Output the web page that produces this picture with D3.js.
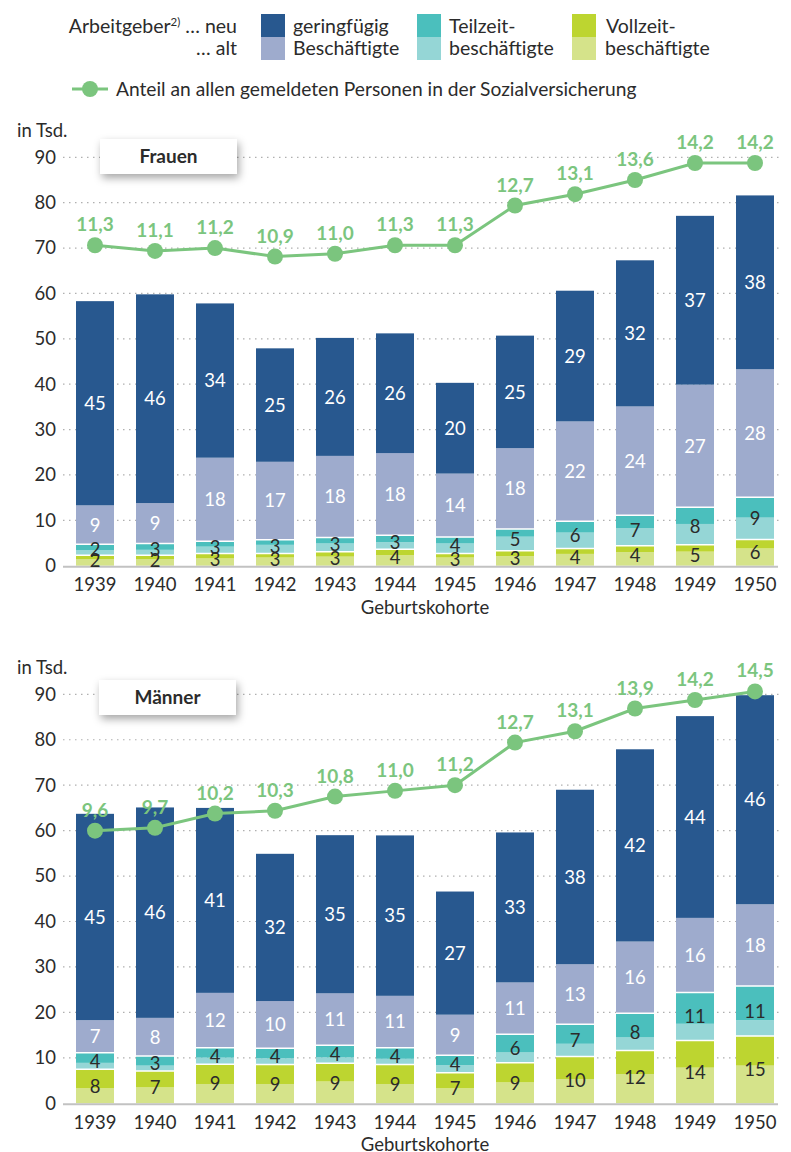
<!DOCTYPE html>
<html><head><meta charset="utf-8">
<script src="https://cdn.jsdelivr.net/npm/d3@7"></script>
<style>
html,body{margin:0;padding:0;background:#fff;}
svg text{font-family:Lato,"Source Sans Pro","Noto Sans",sans-serif;}
</style></head>
<body>
<svg id="chart" width="791" height="1152"></svg>
<script>
const years = ["1939","1940","1941","1942","1943","1944","1945","1946","1947","1948","1949","1950"];
const yTicks = [0,10,20,30,40,50,60,70,80,90];

// Frauen (in Tsd.)
const frauenVollzeitAlt  = [1.4,1.4,1.6,1.8,2.0,2.3,1.8,2.1,2.6,3.0,3.1,3.8];
const frauenVollzeitNeu  = [0.9,0.9,1.1,0.9,1.1,1.3,0.9,1.2,1.2,1.4,1.5,2.0];
const frauenTeilzeitAlt  = [1.1,1.2,1.5,1.9,1.8,1.6,2.2,3.1,3.5,3.9,4.6,4.8];
const frauenTeilzeitNeu  = [1.3,1.4,1.2,1.1,1.3,1.5,1.4,1.7,2.5,2.8,3.7,4.5];
const frauenGeringAlt    = [8.6,8.9,18.4,17.2,18.0,18.1,14.0,17.8,22.0,24.0,27.0,28.2];
const frauenGeringNeu    = [45.0,46.0,34.0,25.0,26.0,26.4,20.0,24.8,28.8,32.2,37.2,38.3];
const frauenAnteil       = [11.3,11.1,11.2,10.9,11.0,11.3,11.3,12.7,13.1,13.6,14.2,14.2];

// Männer (in Tsd.)
const maennerVollzeitAlt = [3.3,3.5,4.25,4.25,4.8,4.25,3.3,4.6,5.35,6.45,7.85,8.3];
const maennerVollzeitNeu = [4.2,3.6,4.35,4.3,4.0,4.3,3.45,4.35,4.95,5.15,5.95,6.5];
const maennerTeilzeitAlt = [1.4,1.2,1.45,1.35,1.3,1.25,1.65,2.25,2.8,2.9,3.7,3.5];
const maennerTeilzeitNeu = [2.2,2.1,2.2,2.2,2.7,2.45,2.2,4.0,4.3,5.3,6.9,7.5];
const maennerGeringAlt   = [7.2,8.4,12.05,10.4,11.4,11.4,8.9,11.4,13.2,15.8,16.4,18.0];
const maennerGeringNeu   = [45.4,46.3,40.7,32.4,34.8,35.3,27.1,33.0,38.4,42.3,44.4,46.0];
const maennerAnteil      = [9.6,9.7,10.2,10.3,10.8,11.0,11.2,12.7,13.1,13.9,14.2,14.5];

const C = {
  vzAlt:"#d5e38a", vzNeu:"#bdd530",
  tzAlt:"#95d6d6", tzNeu:"#4bbfbd",
  gbAlt:"#9eabcd", gbNeu:"#28588f",
  line:"#7bc57e", text:"#2b2b2b", grid:"#b0b0b0", axis:"#c2c2c2"
};

const svg = d3.select("#chart");
const defs = svg.append("defs");
const f = defs.append("filter").attr("id","shadow").attr("x","-20%").attr("y","-30%").attr("width","150%").attr("height","190%");
f.append("feDropShadow").attr("dx",2).attr("dy",4).attr("stdDeviation",4).attr("flood-color","#000").attr("flood-opacity",0.35);

const fmt = v => d3.format(".1f")(v).replace(".", ",");

// ---------- Legend ----------
const lg = svg.append("g");
const lt = lg.append("text").attr("x",237).attr("y",33).attr("text-anchor","end").attr("font-size",19.5).attr("fill",C.text);
lt.append("tspan").text("Arbeitgeber");
lt.append("tspan").attr("font-size",11.5).attr("dy",-7).text("2)");
lt.append("tspan").attr("dy",7).text(" … neu");
lg.append("text").attr("x",237).attr("y",55).attr("text-anchor","end").attr("font-size",19.5).attr("fill",C.text).text("… alt");

const legendItems = [
  {x:261, neu:C.gbNeu, alt:C.gbAlt, l1:"geringfügig", l2:"Beschäftigte", tx:293},
  {x:417, neu:C.tzNeu, alt:C.tzAlt, l1:"Teilzeit-", l2:"beschäftigte", tx:449},
  {x:572, neu:C.vzNeu, alt:C.vzAlt, l1:"Vollzeit-", l2:"beschäftigte", tx:606}
];
legendItems.forEach(it=>{
  lg.append("rect").attr("x",it.x).attr("y",14).attr("width",24).attr("height",23).attr("fill",it.neu);
  lg.append("rect").attr("x",it.x).attr("y",37).attr("width",24).attr("height",23).attr("fill",it.alt);
  lg.append("text").attr("x",it.tx).attr("y",33).attr("font-size",19.5).attr("fill",C.text).text(it.l1);
  lg.append("text").attr("x",it.tx-(it.l1==="Vollzeit-"?1:0)).attr("y",55).attr("font-size",19.5).attr("fill",C.text).text(it.l2);
});
lg.append("line").attr("x1",72).attr("x2",108).attr("y1",89).attr("y2",89).attr("stroke",C.line).attr("stroke-width",3);
lg.append("circle").attr("cx",90).attr("cy",89).attr("r",8).attr("fill",C.line);
lg.append("text").attr("x",116).attr("y",96).attr("font-size",19.2).attr("fill",C.text).text("Anteil an allen gemeldeten Personen in der Sozialversicherung");

// ---------- Panels ----------
const x = d3.scaleBand().domain(years).range([65,785]).paddingInner(22/60).paddingOuter(11/60);

function panel(cfg){
  const y = d3.scaleLinear().domain([0,90]).range([cfg.bottom, cfg.top]);
  const y2 = d3.scaleLinear().domain([0,14.4]).range([cfg.bottom, cfg.top]);
  const g = svg.append("g");

  g.append("text").attr("x",17).attr("y",cfg.top-20).attr("font-size",18.5).attr("fill",C.text).text("in Tsd.");

  // grid
  g.selectAll(".grid").data(yTicks.filter(d=>d>0)).join("line")
    .attr("x1",63).attr("x2",780).attr("y1",d=>y(d)).attr("y2",d=>y(d))
    .attr("stroke",C.grid).attr("stroke-width",1.2).attr("stroke-dasharray","1.5,4.5");

  // y axis labels
  const ya = g.append("g").attr("transform","translate(56,0)")
    .call(d3.axisLeft(y).tickValues(yTicks).tickSize(0).tickPadding(0));
  ya.select(".domain").remove();
  ya.selectAll("text").attr("font-size",18.5).attr("fill",C.text).attr("font-family","Lato,sans-serif");

  // title box
  g.append("rect").attr("x",cfg.boxX).attr("y",cfg.boxY).attr("width",137).attr("height",35)
    .attr("fill","#fff").attr("filter","url(#shadow)");
  g.append("text").attr("x",cfg.boxX+68.5).attr("y",cfg.boxY+24).attr("text-anchor","middle")
    .attr("font-size",19).attr("font-weight","bold").attr("fill",C.text).text(cfg.title);

  // stack
  const rows = years.map((yr,i)=>({year:yr, vzAlt:cfg.vzAlt[i], vzNeu:cfg.vzNeu[i], tzAlt:cfg.tzAlt[i], tzNeu:cfg.tzNeu[i], gbAlt:cfg.gbAlt[i], gbNeu:cfg.gbNeu[i]}));
  const keys = ["vzAlt","vzNeu","tzAlt","tzNeu","gbAlt","gbNeu"];
  const series = d3.stack().keys(keys)(rows);
  const bars = g.append("g");
  series.forEach(s=>{
    bars.selectAll(null).data(s).join("rect")
      .attr("x",d=>x(d.data.year)).attr("width",x.bandwidth())
      .attr("y",d=>y(d[1])).attr("height",d=>y(d[0])-y(d[1]))
      .attr("fill",C[s.key]);
  });
  // white separators between groups
  ["vzNeu","tzNeu"].forEach(k=>{
    const s = series.find(q=>q.key===k);
    bars.selectAll(null).data(s).join("line")
      .attr("x1",d=>x(d.data.year)).attr("x2",d=>x(d.data.year)+x.bandwidth())
      .attr("y1",d=>y(d[1])).attr("y2",d=>y(d[1]))
      .attr("stroke","#fff").attr("stroke-width",1.5);
  });

  // baseline
  g.append("line").attr("x1",63).attr("x2",778).attr("y1",y(0)+1).attr("y2",y(0)+1).attr("stroke",C.axis).attr("stroke-width",2);

  // bar labels
  const lab = g.append("g").attr("font-size",18.5).attr("text-anchor","middle");
  rows.forEach(r=>{
    const cx = x(r.year)+x.bandwidth()/2;
    const vz = r.vzAlt+r.vzNeu, tz = r.tzAlt+r.tzNeu;
    const items = [
      {v:vz, mid:vz/2, col:C.text},
      {v:tz, mid:vz+tz/2, col:C.text},
      {v:r.gbAlt, mid:vz+tz+r.gbAlt/2, col:"#fff"},
      {v:r.gbNeu, mid:vz+tz+r.gbAlt+r.gbNeu/2, col:"#fff"}
    ];
    items.forEach(it=>{
      lab.append("text").attr("x",cx).attr("y",y(it.mid)).attr("dy","0.36em")
        .attr("fill",it.col).text(Math.round(it.v));
    });
  });

  // x axis labels
  const xa = g.append("g").attr("transform",`translate(0,${cfg.bottom+8})`)
    .call(d3.axisBottom(x).tickSize(0).tickPadding(0));
  xa.select(".domain").remove();
  xa.selectAll("text").attr("font-size",18.5).attr("fill",C.text).attr("font-family","Lato,sans-serif").attr("dy","0.95em");
  g.append("text").attr("x",425).attr("y",cfg.bottom+48).attr("text-anchor","middle").attr("font-size",18.5).attr("fill",C.text).text("Geburtskohorte");

  // line
  const line = d3.line().x((d,i)=>x(years[i])+x.bandwidth()/2).y(d=>y2(d));
  g.append("path").datum(cfg.anteil).attr("d",line).attr("fill","none").attr("stroke",C.line).attr("stroke-width",3);
  g.selectAll(".pt").data(cfg.anteil).join("circle")
    .attr("cx",(d,i)=>x(years[i])+x.bandwidth()/2).attr("cy",d=>y2(d)).attr("r",8).attr("fill",C.line);
  g.selectAll(".pl").data(cfg.anteil).join("text")
    .attr("x",(d,i)=>x(years[i])+x.bandwidth()/2).attr("y",d=>y2(d)-14)
    .attr("text-anchor","middle").attr("font-size",19).attr("font-weight","bold").attr("fill",C.line)
    .text(d=>fmt(d));
}

panel({title:"Frauen", top:157.3, bottom:565.7, boxX:100, boxY:139,
  vzAlt:frauenVollzeitAlt, vzNeu:frauenVollzeitNeu, tzAlt:frauenTeilzeitAlt, tzNeu:frauenTeilzeitNeu,
  gbAlt:frauenGeringAlt, gbNeu:frauenGeringNeu, anteil:frauenAnteil});
panel({title:"Männer", top:694.3, bottom:1103.3, boxX:99, boxY:680,
  vzAlt:maennerVollzeitAlt, vzNeu:maennerVollzeitNeu, tzAlt:maennerTeilzeitAlt, tzNeu:maennerTeilzeitNeu,
  gbAlt:maennerGeringAlt, gbNeu:maennerGeringNeu, anteil:maennerAnteil});
</script>
</body></html>
